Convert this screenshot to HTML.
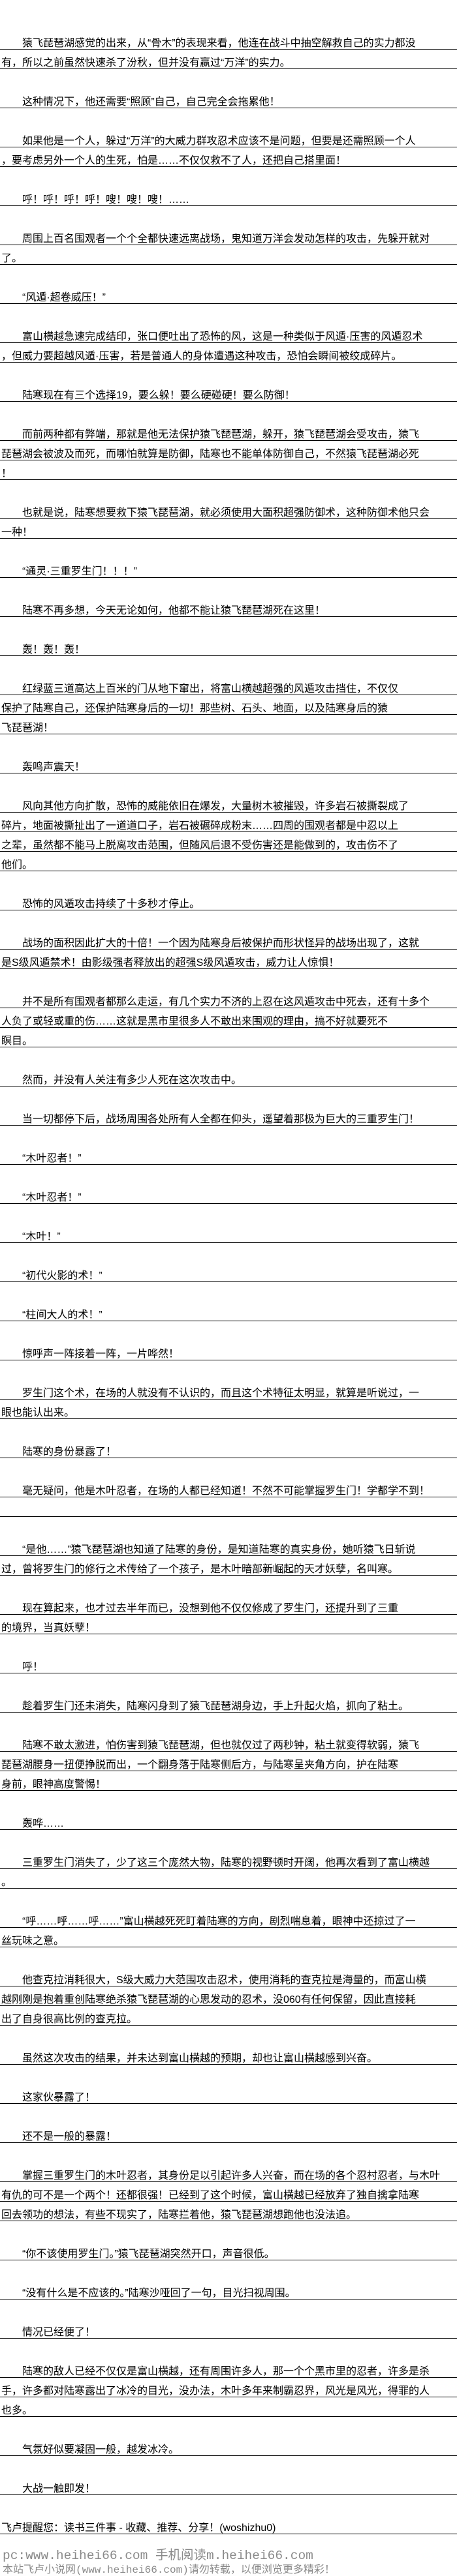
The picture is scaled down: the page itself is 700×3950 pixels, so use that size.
<!DOCTYPE html>
<html><head><meta charset="utf-8">
<style>
html,body{margin:0;padding:0;background:#fff;}
body{width:700px;height:3935px;overflow:hidden;position:relative;}
#c{padding-top:46px;}
.r{height:30px;box-sizing:border-box;border-bottom:1px solid #000;padding:13px 0 0 2px;line-height:16px;font-size:16px;white-space:nowrap;overflow:hidden;color:#000;font-family:"Liberation Sans","Noto Sans CJK SC",sans-serif;}
.i{padding-left:34px;}
.b{height:30px;}
.ft{position:absolute;left:4px;font-family:"Liberation Mono","Noto Sans CJK SC",monospace;font-size:19.5px;color:#8a8a8a;white-space:nowrap;}
</style></head><body>
<div id="c">
<div class="r i">猿飞琵琶湖感觉的出来，从“骨木”的表现来看，他连在战斗中抽空解救自己的实力都没</div>
<div class="r">有，所以之前虽然快速杀了汾秋，但并没有赢过“万洋”的实力。</div>
<div class="b"></div>
<div class="r i">这种情况下，他还需要“照顾”自己，自己完全会拖累他！</div>
<div class="b"></div>
<div class="r i">如果他是一个人，躲过“万洋”的大威力群攻忍术应该不是问题，但要是还需照顾一个人</div>
<div class="r">，要考虑另外一个人的生死，怕是……不仅仅救不了人，还把自己搭里面！</div>
<div class="b"></div>
<div class="r i">呼！呼！呼！呼！嗖！嗖！嗖！……</div>
<div class="b"></div>
<div class="r i">周围上百名围观者一个个全都快速远离战场，鬼知道万洋会发动怎样的攻击，先躲开就对</div>
<div class="r">了。</div>
<div class="b"></div>
<div class="r i">“风遁·超卷威压！”</div>
<div class="b"></div>
<div class="r i">富山横越急速完成结印，张口便吐出了恐怖的风，这是一种类似于风遁·压害的风遁忍术</div>
<div class="r">，但威力要超越风遁·压害，若是普通人的身体遭遇这种攻击，恐怕会瞬间被绞成碎片。</div>
<div class="b"></div>
<div class="r i">陆寒现在有三个选择19，要么躲！要么硬碰硬！要么防御！</div>
<div class="b"></div>
<div class="r i">而前两种都有弊端，那就是他无法保护猿飞琵琶湖，躲开，猿飞琵琶湖会受攻击，猿飞</div>
<div class="r">琵琶湖会被波及而死，而哪怕就算是防御，陆寒也不能单体防御自己，不然猿飞琵琶湖必死</div>
<div class="r">！</div>
<div class="b"></div>
<div class="r i">也就是说，陆寒想要救下猿飞琵琶湖，就必须使用大面积超强防御术，这种防御术他只会</div>
<div class="r">一种！</div>
<div class="b"></div>
<div class="r i">“通灵·三重罗生门！！！”</div>
<div class="b"></div>
<div class="r i">陆寒不再多想，今天无论如何，他都不能让猿飞琵琶湖死在这里！</div>
<div class="b"></div>
<div class="r i">轰！轰！轰！</div>
<div class="b"></div>
<div class="r i">红绿蓝三道高达上百米的门从地下窜出，将富山横越超强的风遁攻击挡住，不仅仅</div>
<div class="r">保护了陆寒自己，还保护陆寒身后的一切！那些树、石头、地面，以及陆寒身后的猿</div>
<div class="r">飞琵琶湖！</div>
<div class="b"></div>
<div class="r i">轰鸣声震天！</div>
<div class="b"></div>
<div class="r i">风向其他方向扩散，恐怖的威能依旧在爆发，大量树木被摧毁，许多岩石被撕裂成了</div>
<div class="r">碎片，地面被撕扯出了一道道口子，岩石被碾碎成粉末……四周的围观者都是中忍以上</div>
<div class="r">之辈，虽然都不能马上脱离攻击范围，但随风后退不受伤害还是能做到的，攻击伤不了</div>
<div class="r">他们。</div>
<div class="b"></div>
<div class="r i">恐怖的风遁攻击持续了十多秒才停止。</div>
<div class="b"></div>
<div class="r i">战场的面积因此扩大的十倍！一个因为陆寒身后被保护而形状怪异的战场出现了，这就</div>
<div class="r">是S级风遁禁术！由影级强者释放出的超强S级风遁攻击，威力让人惊惧！</div>
<div class="b"></div>
<div class="r i">并不是所有围观者都那么走运，有几个实力不济的上忍在这风遁攻击中死去，还有十多个</div>
<div class="r">人负了或轻或重的伤……这就是黑市里很多人不敢出来围观的理由，搞不好就要死不</div>
<div class="r">瞑目。</div>
<div class="b"></div>
<div class="r i">然而，并没有人关注有多少人死在这次攻击中。</div>
<div class="b"></div>
<div class="r i">当一切都停下后，战场周围各处所有人全都在仰头，遥望着那极为巨大的三重罗生门！</div>
<div class="b"></div>
<div class="r i">“木叶忍者！”</div>
<div class="b"></div>
<div class="r i">“木叶忍者！”</div>
<div class="b"></div>
<div class="r i">“木叶！”</div>
<div class="b"></div>
<div class="r i">“初代火影的术！”</div>
<div class="b"></div>
<div class="r i">“柱间大人的术！”</div>
<div class="b"></div>
<div class="r i">惊呼声一阵接着一阵，一片哗然！</div>
<div class="b"></div>
<div class="r i">罗生门这个术，在场的人就没有不认识的，而且这个术特征太明显，就算是听说过，一</div>
<div class="r">眼也能认出来。</div>
<div class="b"></div>
<div class="r i">陆寒的身份暴露了！</div>
<div class="b"></div>
<div class="r i">毫无疑问，他是木叶忍者，在场的人都已经知道！不然不可能掌握罗生门！学都学不到！</div>
<div class="r"></div>
<div class="b"></div>
<div class="r i">“是他……”猿飞琵琶湖也知道了陆寒的身份，是知道陆寒的真实身份，她听猿飞日斩说</div>
<div class="r">过，曾将罗生门的修行之术传给了一个孩子，是木叶暗部新崛起的天才妖孽，名叫寒。</div>
<div class="b"></div>
<div class="r i">现在算起来，也才过去半年而已，没想到他不仅仅修成了罗生门，还提升到了三重</div>
<div class="r">的境界，当真妖孽！</div>
<div class="b"></div>
<div class="r i">呼！</div>
<div class="b"></div>
<div class="r i">趁着罗生门还未消失，陆寒闪身到了猿飞琵琶湖身边，手上升起火焰，抓向了粘土。</div>
<div class="b"></div>
<div class="r i">陆寒不敢太激进，怕伤害到猿飞琵琶湖，但也就仅过了两秒钟，粘土就变得软弱，猿飞</div>
<div class="r">琵琶湖腰身一扭便挣脱而出，一个翻身落于陆寒侧后方，与陆寒呈夹角方向，护在陆寒</div>
<div class="r">身前，眼神高度警惕！</div>
<div class="b"></div>
<div class="r i">轰哗……</div>
<div class="b"></div>
<div class="r i">三重罗生门消失了，少了这三个庞然大物，陆寒的视野顿时开阔，他再次看到了富山横越</div>
<div class="r">。</div>
<div class="b"></div>
<div class="r i">“呼……呼……呼……”富山横越死死盯着陆寒的方向，剧烈喘息着，眼神中还掠过了一</div>
<div class="r">丝玩味之意。</div>
<div class="b"></div>
<div class="r i">他查克拉消耗很大，S级大威力大范围攻击忍术，使用消耗的查克拉是海量的，而富山横</div>
<div class="r">越刚刚是抱着重创陆寒绝杀猿飞琵琶湖的心思发动的忍术，没060有任何保留，因此直接耗</div>
<div class="r">出了自身很高比例的查克拉。</div>
<div class="b"></div>
<div class="r i">虽然这次攻击的结果，并未达到富山横越的预期，却也让富山横越感到兴奋。</div>
<div class="b"></div>
<div class="r i">这家伙暴露了！</div>
<div class="b"></div>
<div class="r i">还不是一般的暴露！</div>
<div class="b"></div>
<div class="r i">掌握三重罗生门的木叶忍者，其身份足以引起许多人兴奋，而在场的各个忍村忍者，与木叶</div>
<div class="r">有仇的可不是一个两个！还都很强！已经到了这个时候，富山横越已经放弃了独自擒拿陆寒</div>
<div class="r">回去领功的想法，有些不现实了，陆寒拦着他，猿飞琵琶湖想跑他也没法追。</div>
<div class="b"></div>
<div class="r i">“你不该使用罗生门。”猿飞琵琶湖突然开口，声音很低。</div>
<div class="b"></div>
<div class="r i">“没有什么是不应该的。”陆寒沙哑回了一句，目光扫视周围。</div>
<div class="b"></div>
<div class="r i">情况已经便了！</div>
<div class="b"></div>
<div class="r i">陆寒的敌人已经不仅仅是富山横越，还有周围许多人，那一个个黑市里的忍者，许多是杀</div>
<div class="r">手，许多都对陆寒露出了冰冷的目光，没办法，木叶多年来制霸忍界，风光是风光，得罪的人</div>
<div class="r">也多。</div>
<div class="b"></div>
<div class="r i">气氛好似要凝固一般，越发冰冷。</div>
<div class="b"></div>
<div class="r i">大战一触即发！</div>
<div class="b"></div>
<div class="r">飞卢提醒您：读书三件事 - 收藏、推荐、分享！(woshizhu0)</div>
</div>
<div class="ft" style="top:3901px;">pc:www.heihei66.com 手机阅读m.heihei66.com</div>
<div class="ft" style="top:3926px;font-size:16px;">本站飞卢小说网(www.heihei66.com)请勿转载，以便浏览更多精彩！</div>
</body></html>
